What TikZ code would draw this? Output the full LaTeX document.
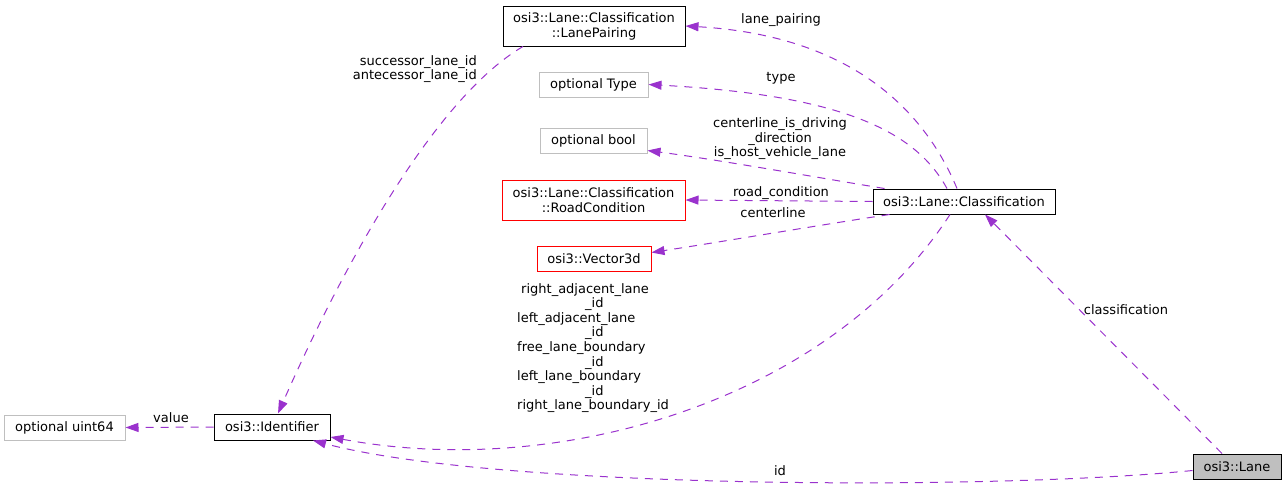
\documentclass[tikz,border=0pt]{standalone}
\usepackage{fontspec}
\setmainfont{DejaVu Sans}
\usetikzlibrary{arrows.meta}
\definecolor{edgec}{HTML}{9A32CD}
\definecolor{greyb}{HTML}{BFBFBF}
\begin{document}
\begin{tikzpicture}[x=1pt,y=-1pt,
  nbox/.style={draw=#1, line width=1pt, inner sep=0pt, align=center, text=black,
    font=\fontsize{13}{15}\selectfont},
  lbl/.style={inner sep=0pt, text=black, font=\fontsize{13}{14.6}\selectfont},
  rel/.style={draw=edgec, line width=1pt, dash pattern=on 8pt off 7pt,
    -{Triangle[length=13pt,width=9pt]}}]
\useasboundingbox (0,0) rectangle (1287,488);

% nodes
\node[nbox=black, minimum width=182pt, minimum height=40pt] (lp) at (594,26)
  {osi3::Lane::Classification\\::LanePairing};
\node[nbox=greyb, minimum width=109pt, minimum height=25pt] (typ) at (593.5,84.5) {optional Type};
\node[nbox=greyb, minimum width=107pt, minimum height=25pt] (bool) at (593.5,140.5) {optional bool};
\node[nbox=red, minimum width=183pt, minimum height=40pt] (rc) at (593.5,200)
  {osi3::Lane::Classification\\::RoadCondition};
\node[nbox=red, minimum width=114pt, minimum height=25pt] (vec) at (594,258.5) {osi3::Vector3d};
\node[nbox=black, minimum width=182pt, minimum height=25pt] (cls) at (964,201.5) {osi3::Lane::Classification};
\node[nbox=black, minimum width=116pt, minimum height=26pt] (ident) at (272,427) {osi3::Identifier};
\node[nbox=greyb, minimum width=121pt, minimum height=25pt] (uint) at (64.5,427.5) {optional uint64};
\node[nbox=black, fill=greyb, minimum width=88pt, minimum height=25pt] (lane) at (1237,466.5) {osi3::Lane};

% edges
\draw[rel] ([xshift=-7pt]cls.north) .. controls (920,100) and (840,35) .. (lp.east);
\draw[rel] ([xshift=-17pt]cls.north) .. controls (915,130) and (840,95) .. (typ.east);
\draw[rel] ([xshift=12pt]cls.north west) .. controls (820,178) and (720,160) .. ([yshift=3pt]bool.south east);
\draw[rel] (cls.west) -- (rc.east);
\draw[rel] ([xshift=17pt]cls.south west) .. controls (820,225) and (720,242) .. ([yshift=6pt]vec.east);
\draw[rel] ([xshift=-14pt]cls.south) .. controls (830,400) and (560,480) .. ([yshift=-10pt]ident.east);
\draw[rel] ([xshift=-15pt]lane.north) -- ([xshift=21pt]cls.south);
\draw[rel] ([yshift=-4pt]lane.west) .. controls (1000,490) and (500,490) .. ([xshift=41pt]ident.south);
\draw[rel] (ident.west) -- (uint.east);
\draw[rel] ([xshift=-71pt]lp.south) .. controls (440,95) and (350,250) .. ([xshift=6pt]ident.north);

% labels
\node[lbl, anchor=base] (llp) at (781,23) {lane\_pairing};
\node[lbl, anchor=base] (ltyp) at (781,81) {type};
\node[lbl, anchor=north, align=center] (lbool) at (780,117.6)
  {centerline\_is\_driving\\\_direction\\is\_host\_vehicle\_lane};
\node[lbl, anchor=base] (lrc) at (781,196) {road\_condition};
\node[lbl, anchor=base] (lvec) at (773,217) {centerline};
\node[lbl, anchor=north west, align=left] (lident) at (517,283)
  {\hspace*{4pt}right\_adjacent\_lane\\\hspace*{68pt}\_id\\left\_adjacent\_lane\\\hspace*{68pt}\_id\\free\_lane\_boundary\\\hspace*{68pt}\_id\\left\_lane\_boundary\\\hspace*{68pt}\_id\\right\_lane\_boundary\_id};
\node[lbl, anchor=base] (lcls) at (1126,314) {classification};
\node[lbl, anchor=base] (lid) at (780,475) {id};
\node[lbl, anchor=base] (lval) at (171,422) {value};
\node[lbl, anchor=north east, align=right] (lsucc) at (477,55)
  {successor\_lane\_id\\antecessor\_lane\_id};
\end{tikzpicture}
\end{document}
